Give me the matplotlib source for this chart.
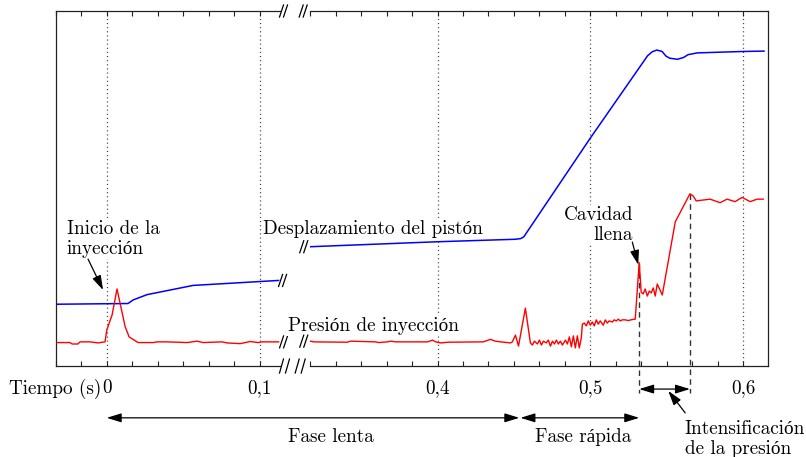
import numpy as np
import matplotlib
matplotlib.use("Agg")
import matplotlib.pyplot as plt
from matplotlib import transforms as mtransforms

plt.rcParams["font.family"] = ["cmr10", "Liberation Serif"]
plt.rcParams["axes.formatter.use_mathtext"] = True
plt.rcParams["mathtext.fontset"] = "cm"

# ---------------------------------------------------------------- data
# time in s, signals in % of the plot height
pres_lenta_t = [-0.0325, -0.024, -0.0226, -0.0188, -0.0175, -0.0109, -0.0057, -0.0011,
                0.0, 0.0035, 0.0067, 0.012, 0.0146, 0.0205, 0.0303, 0.0329, 0.0394,
                0.0525, 0.059, 0.0629, 0.0753, 0.0786, 0.0871, 0.0937, 0.0989, 0.1015, 0.1122]
pres_lenta_v = [6.6, 6.6, 6.2, 6.2, 6.8, 6.8, 6.5, 6.8,
                10.1, 14.4, 21.7, 11.1, 8.2, 6.6, 6.6, 6.8, 6.8,
                6.6, 7.0, 6.6, 6.8, 6.5, 6.3, 6.9, 6.6, 6.8, 6.8]

pres_rapida_t = [0.3167, 0.319, 0.341, 0.343, 0.3595, 0.3614, 0.3673, 0.3693, 0.3725,
                 0.3843, 0.3935, 0.3967, 0.3987, 0.402, 0.4072, 0.430, 0.4346, 0.4379,
                 0.4412, 0.4477, 0.449, 0.451, 0.453, 0.4575, 0.4608, 0.4621, 0.4634,
                 0.4654, 0.4667, 0.468, 0.4693, 0.4712, 0.4725, 0.4739, 0.4752, 0.4765,
                 0.4778, 0.4791, 0.4804, 0.4817, 0.4837, 0.485, 0.4863, 0.4876, 0.4889,
                 0.4902, 0.4915, 0.4928, 0.4941, 0.4948, 0.4961, 0.4974, 0.4987, 0.5,
                 0.5013, 0.5026, 0.5039, 0.5052, 0.5065, 0.5085, 0.5098, 0.5111, 0.5124,
                 0.5144, 0.5157, 0.517, 0.5183, 0.5196, 0.5209, 0.5229, 0.5248, 0.5275,
                 0.5294, 0.532, 0.5333, 0.5346, 0.5359, 0.5373, 0.5386, 0.5399, 0.5412,
                 0.5425, 0.5438, 0.5471, 0.5556, 0.5652, 0.5673, 0.5693, 0.5784, 0.585,
                 0.5895, 0.5948, 0.5993, 0.6046, 0.6092, 0.6131]
pres_rapida_v = [7.0, 6.8, 6.7, 7.0, 6.8, 6.6, 6.8, 7.0, 6.8,
                 6.8, 6.8, 7.3, 6.8, 6.5, 6.7, 6.8, 7.5, 7.0,
                 6.8, 6.5, 6.8, 8.7, 5.6, 16.3, 6.5, 5.9, 7.0,
                 6.2, 7.3, 5.9, 7.0, 6.5, 7.3, 5.6, 7.0, 6.2,
                 7.3, 6.2, 7.0, 5.9, 7.3, 6.2, 8.2, 5.4, 8.5,
                 5.1, 8.5, 5.1, 7.9, 11.8, 12.1, 11.3, 12.7, 11.5,
                 12.4, 11.3, 13.0, 11.8, 12.7, 11.5, 13.0, 12.1, 12.7,
                 12.4, 13.0, 12.7, 13.2, 12.7, 13.0, 13.0, 12.8, 13.1,
                 13.2, 29.1, 20.8, 20.3, 21.7, 19.7, 21.1, 20.6, 22.0,
                 19.7, 23.1, 20.0, 40.6, 48.5, 47.9, 46.5, 47.0, 46.0,
                 47.0, 46.3, 47.5, 46.3, 47.0, 47.0]

desp_lenta_t = [-0.0325, 0.0139, 0.0172, 0.0263, 0.0564, 0.1122]
desp_lenta_v = [17.4, 17.6, 18.6, 20.1, 22.7, 24.1]

desp_rapida_t = [0.3167, 0.400, 0.451, 0.4545, 0.4565, 0.5, 0.5375, 0.5405, 0.5435,
                 0.547, 0.5495, 0.552, 0.557, 0.561, 0.564, 0.570, 0.600, 0.6137]
desp_rapida_v = [33.6, 35.0, 35.7, 35.9, 36.4, 64.2, 87.4, 88.5, 89.0,
                 88.6, 87.3, 86.7, 86.4, 86.9, 87.7, 88.2, 88.6, 88.7]

# phase boundaries (s)
t_inicio = 0.0
t_rapida = 0.4535
t_llena = 0.532
t_intens = 0.5652

tick_step = 1 / 60
label_every = 6

# ---------------------------------------------------------------- figure
fig = plt.figure(figsize=(8.06, 4.57), dpi=100)
W, H = 806, 457
y_bot, y_top = 366, 11
ax1 = fig.add_axes([55.7 / W, (H - y_bot) / H, (279.5 - 55.7) / W, (y_bot - y_top) / H])
ax2 = fig.add_axes([310.2 / W, (H - y_bot) / H, (768 - 310.2) / W, (y_bot - y_top) / H])
ax2.patch.set_visible(False)

ax1.set_xlim(-2 / 60, 0.1128)
ax2.set_xlim(19 / 60, 0.6163)
for ax in (ax1, ax2):
    ax.set_ylim(0, 100)
    ax.set_yticks([])
    for s in ax.spines.values():
        s.set_linewidth(0.9)
        s.set_color("#222222")
ax1.spines["right"].set_visible(False)
ax2.spines["left"].set_visible(False)

FS = 13.8


def tick_label(k):
    if k % label_every:
        return ""
    if k == 0:
        return "0"
    return f"{k * tick_step:.1f}".replace(".", ",")


for ax, ks in ((ax1, range(-2, 7)), (ax2, range(19, 37))):
    ks = list(ks)
    ax.set_xticks([k * tick_step for k in ks])
    ax.set_xticklabels([tick_label(k) for k in ks], fontsize=FS)
    ax.tick_params(axis="x", direction="in", length=3.8, width=0.8, top=True,
                   bottom=True, pad=9.5, color="#222222")
    for k in ks:
        if k % label_every == 0:
            ax.axvline(k * tick_step, color="#444444", lw=0.9, ls=(0, (0.9, 2.4)), zorder=0.5)

# signals
ax1.plot(desp_lenta_t, desp_lenta_v, color="#0000ff", lw=1.1, zorder=3)
ax2.plot(desp_rapida_t, desp_rapida_v, color="#0000ff", lw=1.1, zorder=3)
ax1.plot(pres_lenta_t, pres_lenta_v, color="#ff0000", lw=1.0, zorder=3)
ax2.plot(pres_rapida_t, pres_rapida_v, color="#ff0000", lw=1.0, zorder=3)


# break marks "//"
def break_marks(ax, x, y, base, dx_px, h_px=12, sep_px=4.0, lw=0.9):
    tr = mtransforms.Affine2D() + mtransforms.ScaledTranslation(x, y, base)
    for k in (0, 1):
        cx = dx_px + (k - 0.5) * sep_px
        ax.plot([cx - 2.0, cx + 2.0], [-h_px / 2, h_px / 2], color="black", lw=lw,
                transform=tr, clip_on=False, zorder=6)


break_marks(ax1, 1.0, 1.0, ax1.transAxes, 4)
break_marks(ax2, 0.0, 1.0, ax2.transAxes, -7)
break_marks(ax1, 1.0, 0.0, ax1.transAxes, 5, h_px=14, sep_px=6)
break_marks(ax2, 0.0, 0.0, ax2.transAxes, -10, h_px=14, sep_px=6)
break_marks(ax1, desp_lenta_t[-1], desp_lenta_v[-1], ax1.transData, 4)
break_marks(ax1, pres_lenta_t[-1], pres_lenta_v[-1], ax1.transData, 5)
break_marks(ax2, desp_rapida_t[0], desp_rapida_v[0], ax2.transData, -6.5)
break_marks(ax2, pres_rapida_t[0], pres_rapida_v[0], ax2.transData, -6.5)

# event markers: cavity full and end of intensification
y_under = -7.6
i_llena = pres_rapida_t.index(t_llena)
i_intens = pres_rapida_t.index(t_intens)
for t, v in ((t_llena, pres_rapida_v[i_llena]), (t_intens, pres_rapida_v[i_intens])):
    ax2.plot([t, t], [v, y_under], color="#333333", lw=1.0, ls=(0, (4, 3)),
             clip_on=False, zorder=2)

# annotations
box = dict(facecolor="white", edgecolor="none", pad=0.5)
ax1.text(-0.026, 35.8, "Inicio de la\ninyección", fontsize=FS, ha="left", va="center",
         linespacing=1.15, bbox=box, zorder=4)
ax2.text(0.2856, 38.6, "Desplazamiento del pistón", fontsize=FS, ha="left", va="center",
         bbox=box, clip_on=False, zorder=4)
ax2.text(0.302, 11.3, "Presión de inyección", fontsize=FS, ha="left", va="center",
         bbox=box, clip_on=False, zorder=4)
ax2.text(0.5281, 39.7, "Cavidad\nllena", fontsize=FS, ha="right", va="center",
         multialignment="right", linespacing=1.15, bbox=box, zorder=4)
ax1.text(-0.0032, -6.5, "Tiempo (s)", fontsize=FS, ha="right", va="center", clip_on=False)
ax2.text(0.330, -20.0, "Fase lenta", fontsize=FS, ha="center", va="center", clip_on=False)
ax2.text(0.4954, -20.0, "Fase rápida", fontsize=FS, ha="center", va="center", clip_on=False)
ax2.text(0.5618, -20.6, "Intensificación\nde la presión", fontsize=FS, ha="left", va="center",
         multialignment="left", linespacing=1.15, clip_on=False)

head = dict(color="black", lw=0.9, shrinkA=0, shrinkB=0, mutation_scale=8)
single = "-|>,head_length=1.1,head_width=0.34"
ax1.annotate("", xy=(-0.0024, 21.4), xytext=(-0.0122, 30.1),
             arrowprops=dict(arrowstyle=single, **head), zorder=5)
ax2.annotate("", xy=(0.5314, 28.5), xytext=(0.5275, 34.9),
             arrowprops=dict(arrowstyle=single, **head), zorder=5)

y_fase = -14.6
dbl = "<|-|>,head_length=1.1,head_width=0.34"
ax2.annotate("", xy=(t_rapida, y_fase), xycoords=ax2.transData,
             xytext=(t_inicio, y_fase), textcoords=ax1.transData,
             arrowprops=dict(arrowstyle=dbl, **head), annotation_clip=False)
ax2.annotate("", xy=(t_llena, y_fase), xytext=(t_rapida + 0.0008, y_fase),
             arrowprops=dict(arrowstyle=dbl, **head), annotation_clip=False)
ax2.annotate("", xy=(t_intens, -6.5), xytext=(t_llena, -6.5),
             arrowprops=dict(arrowstyle=dbl, **head), annotation_clip=False)
ax2.annotate("", xy=(0.551, -7.0), xytext=(0.5621, -13.2),
             arrowprops=dict(arrowstyle=single, **head), annotation_clip=False)

fig.savefig("out.png", dpi=100)
